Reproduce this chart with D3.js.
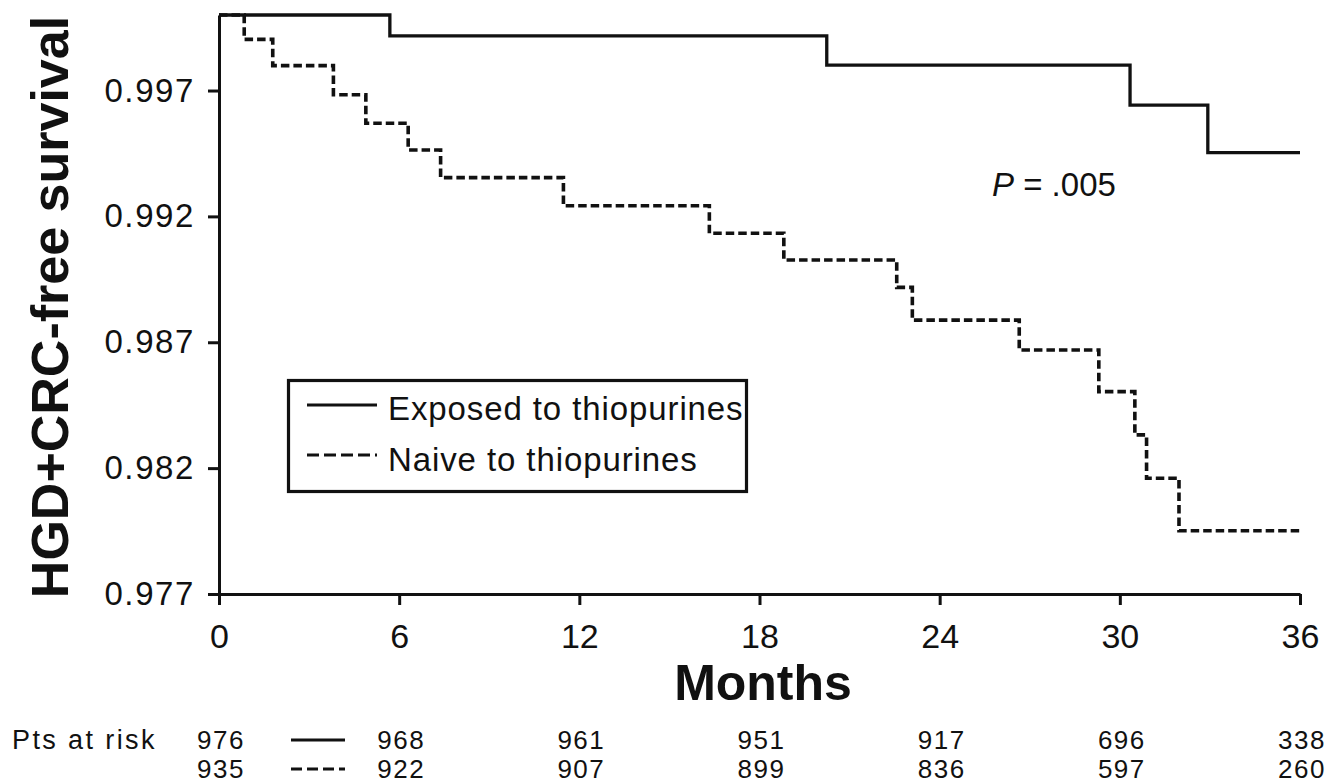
<!DOCTYPE html>
<html>
<head>
<meta charset="utf-8">
<script src="https://cdn.jsdelivr.net/npm/d3@7"></script>
<style>
  html, body { margin: 0; padding: 0; background: #fff; }
  svg { display: block; }
  text { font-family: "Liberation Sans", Arial, Helvetica, sans-serif; fill: #111; }
</style>
</head>
<body>
<svg id="chart" width="1339" height="783"></svg>
<script>
// Kaplan–Meier step data: event times (months) and survival after each step
const monthTicks = [0, 6, 12, 18, 24, 30, 36];
const survivalTicks = [0.977, 0.982, 0.987, 0.992, 0.997];
const followUpEnd = 36;

const exposedTimes = [0, 5.69, 20.24, 30.34, 32.93];
const exposedSurvival = [1.0, 0.99917, 0.99801, 0.99642, 0.99453];

const naiveTimes = [0, 0.84, 1.79, 3.81, 4.89, 6.30, 7.38, 11.47, 16.33, 18.81,
                    22.57, 23.09, 26.65, 29.30, 30.50, 30.89, 31.97];
const naiveSurvival = [1.0, 0.99903, 0.99799, 0.99683, 0.99570, 0.99464, 0.99354,
                       0.99242, 0.99133, 0.99027, 0.98918, 0.98788, 0.98669,
                       0.98504, 0.98332, 0.98160, 0.97951];

// Patients at risk at each month tick
const atRiskExposed = [976, 968, 961, 951, 917, 696, 338];
const atRiskNaive = [935, 922, 907, 899, 836, 597, 260];

const seriesNames = ["Exposed to thiopurines", "Naive to thiopurines"];

const svg = d3.select("#chart");
const ink = "#111";

const x = d3.scaleLinear().domain([0, 36]).range([219, 1300]);
const y = d3.scaleLinear().domain([0.977, 1.0]).range([594, 15]);

// Axes
const yAxis = d3.axisLeft(y).tickValues(survivalTicks).tickFormat(d3.format(".3f"))
  .tickSize(11).tickPadding(13).tickSizeOuter(0);
const xAxis = d3.axisBottom(x).tickValues(monthTicks).tickFormat(d3.format("d"))
  .tickSize(11).tickPadding(19).tickSizeOuter(0);

const gy = svg.append("g").attr("transform", `translate(${x(0)},0)`).call(yAxis);
const gx = svg.append("g").attr("transform", `translate(0,${y(0.977)})`).call(xAxis);

[gx, gy].forEach(g => {
  g.select(".domain").attr("stroke", ink).attr("stroke-width", 3);
  g.selectAll(".tick line").attr("stroke", ink).attr("stroke-width", 3);
  g.selectAll(".tick text")
    .attr("fill", ink)
    .style("font-family", '"Liberation Sans", Arial, sans-serif');
});
gy.selectAll(".tick text").style("font-size", "33px").style("letter-spacing", "1.6px");
gx.selectAll(".tick text").style("font-size", "34px");

// Axis titles
svg.append("text")
  .attr("transform", `translate(68,307) rotate(-90)`)
  .attr("text-anchor", "middle")
  .style("font-size", "52px").style("font-weight", "bold")
  .text("HGD+CRC-free survival");

svg.append("text")
  .attr("x", 763).attr("y", 700)
  .attr("text-anchor", "middle")
  .style("font-size", "50px").style("font-weight", "bold")
  .text("Months");

// Survival curves
function stepPoints(times, surv) {
  const pts = times.map((t, i) => [t, surv[i]]);
  pts.push([followUpEnd, surv[surv.length - 1]]);
  return pts;
}
const line = d3.line().x(d => x(d[0])).y(d => y(d[1])).curve(d3.curveStepAfter);

svg.append("path")
  .datum(stepPoints(naiveTimes, naiveSurvival))
  .attr("d", line)
  .attr("fill", "none").attr("stroke", ink).attr("stroke-width", 3.6)
  .attr("stroke-dasharray", "8.5,4");

svg.append("path")
  .datum(stepPoints(exposedTimes, exposedSurvival))
  .attr("d", line)
  .attr("fill", "none").attr("stroke", ink).attr("stroke-width", 3.3);

// P value
const pText = svg.append("text").attr("x", 992).attr("y", 196).style("font-size", "33px");
pText.append("tspan").style("font-style", "italic").text("P");
pText.append("tspan").text(" = .005");

// Legend
const legend = svg.append("g");
legend.append("rect")
  .attr("x", 288.5).attr("y", 380.5).attr("width", 458).attr("height", 111)
  .attr("fill", "none").attr("stroke", ink).attr("stroke-width", 3.2);
const legendRows = [
  { name: seriesNames[0], dash: null, ly: 405, ty: 420 },
  { name: seriesNames[1], dash: "12,5", ly: 455, ty: 471 }
];
legendRows.forEach(r => {
  legend.append("line")
    .attr("x1", 307).attr("x2", 377).attr("y1", r.ly).attr("y2", r.ly)
    .attr("stroke", ink).attr("stroke-width", 3)
    .attr("stroke-dasharray", r.dash);
  legend.append("text")
    .attr("x", 388).attr("y", r.ty)
    .style("font-size", "33px").style("letter-spacing", "0.9px")
    .text(r.name);
});

// Patients at risk table
const riskFont = 26;
svg.append("text")
  .attr("x", 12).attr("y", 749)
  .style("font-size", "27px").style("letter-spacing", "2.4px")
  .text("Pts at risk");

const riskRows = [
  { values: atRiskExposed, baseline: 749, dash: null, ly: 740 },
  { values: atRiskNaive, baseline: 778, dash: "11,5", ly: 769 }
];
riskRows.forEach(r => {
  svg.append("g").selectAll("text")
    .data(r.values)
    .join("text")
    .attr("x", (d, i) => x(monthTicks[i]) + 2)
    .attr("y", r.baseline)
    .attr("text-anchor", "middle")
    .style("font-size", riskFont + "px")
    .style("letter-spacing", "1.5px")
    .text(d => d);
  svg.append("line")
    .attr("x1", 291).attr("x2", 345).attr("y1", r.ly).attr("y2", r.ly)
    .attr("stroke", ink).attr("stroke-width", 3)
    .attr("stroke-dasharray", r.dash);
});
</script>
</body>
</html>
